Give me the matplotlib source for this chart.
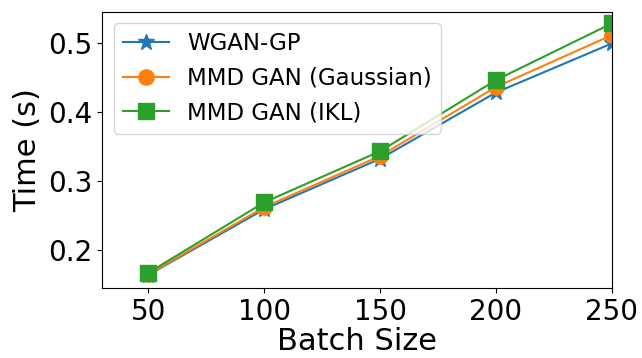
import matplotlib.pyplot as plt

batch_size = [50, 100, 150, 200, 250]
wgan_gp = [0.164, 0.259, 0.332, 0.428, 0.499]
mmd_gauss = [0.165, 0.262, 0.336, 0.436, 0.511]
mmd_ikl = [0.167, 0.269, 0.343, 0.446, 0.528]
labels = ['WGAN-GP', 'MMD GAN (Gaussian)', 'MMD GAN (IKL)']

fig = plt.figure(figsize=(6.42, 3.58), dpi=100)
ax = fig.add_axes([0.159, 0.195, 0.794, 0.772])

ax.plot(batch_size, wgan_gp, '-*', color='tab:blue', markersize=12, label=labels[0])
ax.plot(batch_size, mmd_gauss, '-o', color='tab:orange', markersize=11, label=labels[1])
ax.plot(batch_size, mmd_ikl, '-s', color='tab:green', markersize=11, label=labels[2])

ax.set_xlim(30, 250)
ax.set_ylim(0.1447, 0.5448)
ax.set_xticks(batch_size)
ax.set_yticks([0.2, 0.3, 0.4, 0.5])
ax.tick_params(labelsize=20)
ax.set_xlabel('Batch Size', fontsize=22, labelpad=1)
ax.set_ylabel('Time (s)', fontsize=22)
ax.legend(loc='upper left', fontsize=16.5)

fig.savefig('out.png')
